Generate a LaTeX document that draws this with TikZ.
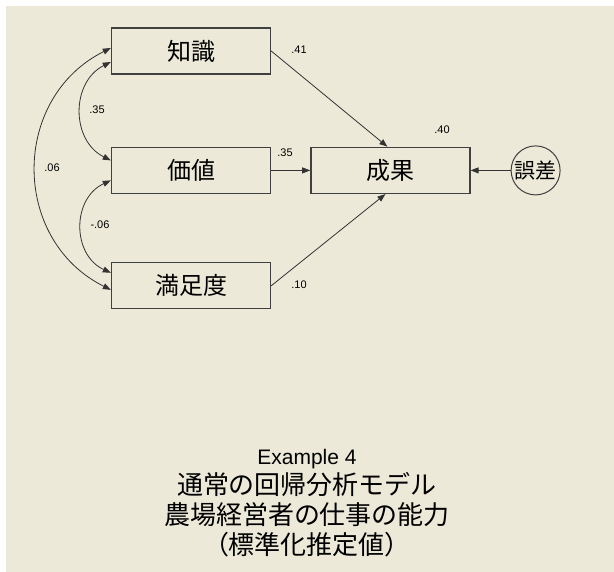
\documentclass[tikz,border=0pt]{standalone}
\usepackage{fontspec}
\setmainfont{Liberation Sans}
\newfontfamily\jp{Noto Sans CJK JP}
\usetikzlibrary{arrows.meta,positioning}
\definecolor{amosbg}{HTML}{ECE9D8}

\begin{document}
\begin{tikzpicture}[x=1pt, y=-1pt,
    node distance=70pt and 39pt,
    var/.style={draw=black!75, line width=1.4pt, fill=amosbg, minimum width=159pt,
      minimum height=46pt, inner sep=0pt, font=\jp\fontsize{24}{24}\selectfont},
    err/.style={draw=black!75, line width=1pt, circle, minimum size=49pt,
      inner sep=0pt, font=\jp\fontsize{21}{21}\selectfont},
    coef/.style={inner sep=0pt, font=\fontsize{11}{11}\selectfont},
    path/.style={-{Triangle[length=8pt,width=6pt]}, draw=black!80, line width=0.8pt},
    cov/.style={{Triangle[length=8pt,width=6pt]}-{Triangle[length=8pt,width=6pt]},
      draw=black!80, line width=0.8pt}
  ]
  \fill[white] (0,0) rectangle (614,572);
  \fill[amosbg] (6,6) rectangle (614,572);
  \useasboundingbox (0,0) rectangle (614,572);

  % observed variables
  \node[var] (chishiki) at (191,51) {知識};
  \node[var, below=72pt of chishiki] (kachi) {価値};
  \node[var, below=68pt of kachi] (manzoku) {満足度};
  \node[var, right=of kachi] (seika) {成果};
  \node[err, right=40pt of seika] (gosa) {誤差};

  % paths
  \draw[path] (chishiki.east) -- ([xshift=-3pt]seika.north);
  \draw[path] (kachi.east) -- (seika.west);
  \draw[path] (manzoku.east) -- ([xshift=-5pt]seika.south);
  \draw[path] (gosa.west) -- (seika.east);

  % covariances
  \draw[cov] ([yshift=-11pt]chishiki.west) .. controls +(-40,20) and +(-40,-20) .. ([yshift=10pt]kachi.west);
  \draw[cov] ([yshift=-10pt]kachi.west) .. controls +(-39,18) and +(-39,-18) .. ([yshift=13pt]manzoku.west);
  \draw[cov] ([yshift=3pt]chishiki.west) .. controls +(-100,50) and +(-100,-50) .. ([yshift=-4pt]manzoku.west);

  % estimates
  \node[coef] (p41) at (299,50) {.41};
  \node[coef] (r40) at (442,130) {.40};
  \node[coef] (p35) at (285,153) {.35};
  \node[coef] (p10) at (299,285) {.10};
  \node[coef] (c35) at (97,110) {.35};
  \node[coef] (c06m) at (100,225) {-.06};
  \node[coef] (c06) at (52,168) {.06};

  \node[align=center, inner sep=0pt, font=\jp\fontsize{26}{30}\selectfont] (title) at (307,503)
    {{\rmfamily\fontsize{21}{29}\selectfont Example 4}\\通常の回帰分析モデル\\
     農場経営者の仕事の能力\\（標準化推定値）};
\end{tikzpicture}
\end{document}
